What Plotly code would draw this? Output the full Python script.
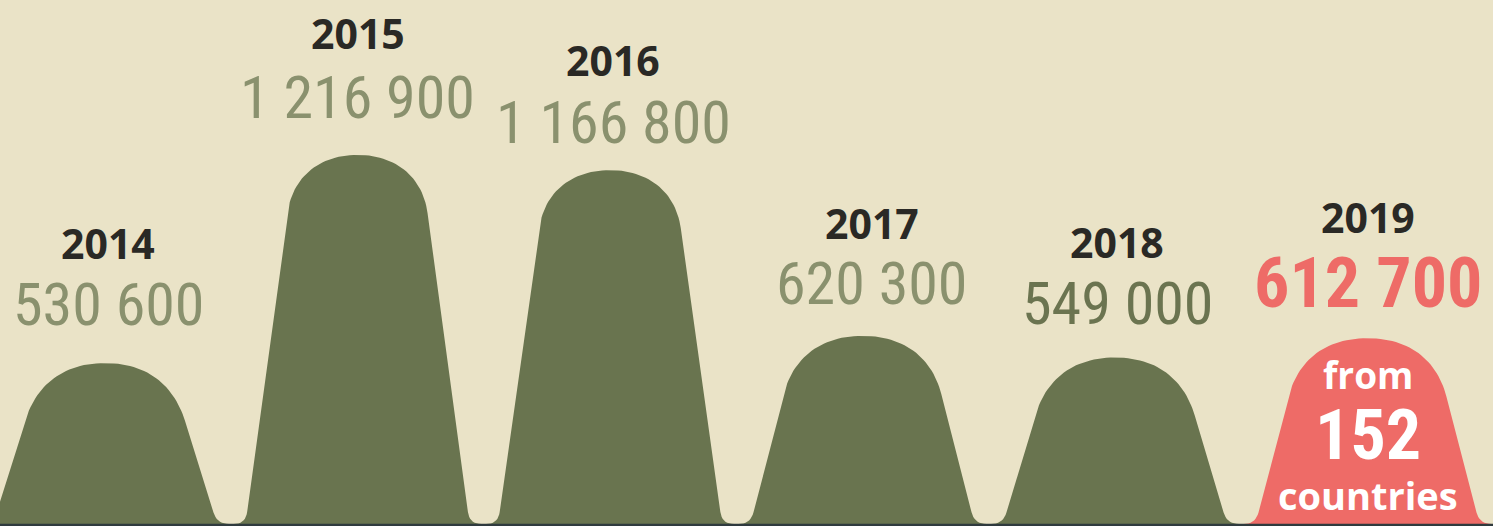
import numpy as np
import plotly.graph_objects as go

# ---------------- data ----------------
years = ["2014", "2015", "2016", "2017", "2018", "2019"]
values = [530600, 1216900, 1166800, 620300, 549000, 612700]
value_labels = ["530 600", "1 216 900", "1 166 800", "620 300", "549 000", "612 700"]
note_lines = ["from", "152", "countries"]

# ---------------- styles ----------------
BG = "#eae3c7"
mound_colors = ["#69744f", "#69744f", "#69744f", "#69744f", "#69744f", "#ee6b67"]
value_colors = ["#8a916e", "#8a916e", "#8a916e", "#8a916e", "#6b7450", "#ee6b67"]
YEAR_COLOR = "#2a2925"
year_yshift = [120, 122, 110, 113, 115, 121]
value_yshift = [59, 57, 48, 52, 54, 55]
label_xshift = [3, 0, 3, 9, 2, 0]
COND = "Roboto Condensed, Open Sans Condensed, sans-serif"

W, H = 1493, 526
X_RANGE = [-0.416, 5.497]
Y_RANGE = [-6594, 1727628]

SX = W / (X_RANGE[1] - X_RANGE[0])   # px per category unit
SY = H / (Y_RANGE[1] - Y_RANGE[0])   # px per value unit


def bez(p0, p1, p2, p3=None, n=16):
    t = np.linspace(0, 1, n)[:, None]
    p0, p1, p2 = np.array(p0), np.array(p1), np.array(p2)
    if p3 is None:
        return (1 - t) ** 2 * p0 + 2 * (1 - t) * t * p1 + t ** 2 * p2
    p3 = np.array(p3)
    return (1 - t) ** 3 * p0 + 3 * (1 - t) ** 2 * t * p1 + 3 * (1 - t) * t ** 2 * p2 + t ** 3 * p3


def mound(i, v):
    h = v * SY                      # height in px derived from the value
    B, hc, fr = 112.0, 58.0, 12.0   # base half width, cap depth, fillet
    w = float(np.clip(80 - 10 * (h - 161) / 208, 68, 82))
    J = np.array([w, h - hc])
    d = J - np.array([B, 0.0])
    d = d / np.hypot(*d)
    S = np.array([B, 0.0]) + d * fr
    E = np.array([B + fr, 0.0])
    fil = bez(E, (B, 0.0), S, n=10)
    cap = bez(J, J + d * 0.62 * hc, (0.55 * w, h), (0.0, h), n=30)
    right = np.vstack([fil, cap])          # from base up to top
    left = right[::-1].copy()
    left[:, 0] *= -1
    pts = np.vstack([left[::-1], right[::-1][1:]])
    xs = i + pts[:, 0] / SX
    ys = pts[:, 1] / SY
    return xs, ys


fig = go.Figure()
for i, v in enumerate(values):
    xs, ys = mound(i, v)
    fig.add_trace(go.Scatter(x=xs, y=ys, mode="lines", fill="toself",
                             fillcolor=mound_colors[i], line=dict(width=0),
                             hoverinfo="skip", showlegend=False))

ann = []
for i, (yr, v, lab) in enumerate(zip(years, values, value_labels)):
    last = i == len(values) - 1
    ann.append(dict(x=i, y=v, text=yr, showarrow=False, yshift=year_yshift[i],
                    xshift=label_xshift[i],
                    font=dict(family="Open Sans", size=41, color=YEAR_COLOR, weight="bold")))
    ann.append(dict(x=i, y=v, text=lab, showarrow=False, yshift=value_yshift[i],
                    xshift=label_xshift[i],
                    font=dict(family=COND, size=70 if last else 60, color=value_colors[i],
                              weight="bold" if last else "normal")))

i_last = len(values) - 1
v_last = values[i_last]
ann.append(dict(x=i_last, y=v_last, text=note_lines[0], showarrow=False, yshift=-36,
                font=dict(family="Open Sans", size=37, color="white", weight="bold")))
ann.append(dict(x=i_last, y=v_last, text=note_lines[1], showarrow=False, yshift=-97,
                font=dict(family=COND, size=70, color="white", weight="bold")))
ann.append(dict(x=i_last, y=v_last, text=note_lines[2], showarrow=False, yshift=-157,
                font=dict(family="Open Sans", size=38, color="white", weight="bold")))

fig.update_layout(
    width=W, height=H,
    margin=dict(l=0, r=0, t=0, b=0),
    paper_bgcolor=BG, plot_bgcolor=BG,
    xaxis=dict(range=X_RANGE, visible=False, fixedrange=True),
    yaxis=dict(range=Y_RANGE, visible=False, fixedrange=True),
    annotations=ann,
    shapes=[dict(type="rect", xref="paper", yref="paper", x0=0, x1=1, y0=0, y1=2.2 / H,
                 fillcolor="#2f3a3e", line=dict(width=0), layer="above")],
    showlegend=False,
)

fig.write_html("out.html", config={"displayModeBar": False},
               post_script="document.body.style.margin='0';document.body.style.overflow='hidden';")
